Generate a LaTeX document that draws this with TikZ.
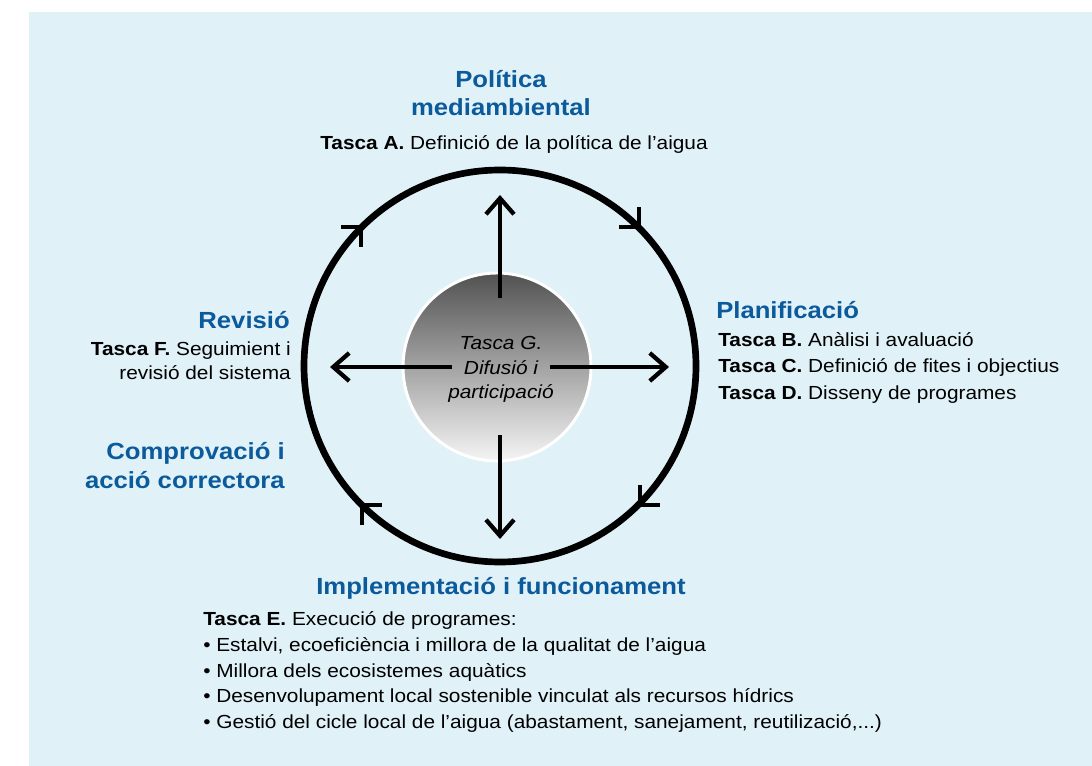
\documentclass[tikz,border=0pt]{standalone}
\usepackage{fontspec}
\setmainfont{Liberation Sans}[FakeStretch=1.1]
\usetikzlibrary{arrows.meta}
\definecolor{bg}{HTML}{E0F1F8}
\definecolor{ttl}{HTML}{0B5A9C}
\begin{document}
\begin{tikzpicture}[x=0.75pt,y=-0.75pt,
  body/.style={font=\fontsize{14.2}{17}\selectfont, inner sep=0pt},
  itbody/.style={font=\fontsize{14.2}{17}\selectfont\itshape, inner sep=0pt},
  ttlbox/.style={font=\fontsize{17.5}{21}\selectfont\bfseries, text=ttl, inner sep=0pt},
  arr/.style={line width=3.2pt, -{Straight Barb[length=12pt,width=21pt]}},
  tickmark/.style={line width=3.4pt, line cap=butt, line join=miter}]
\useasboundingbox (0,0) rectangle (1092,766);
\fill[bg] (29,12) rectangle (1092,766);

% main cycle circle
\coordinate (c) at (500,366);
\draw[line width=5pt] (c) circle[radius=196];

% direction marks on the circle
\coordinate (tl) at (361,227);
\coordinate (tr) at (639,227);
\coordinate (br) at (640,505);
\coordinate (bl) at (362,505);
\draw[tickmark] (341,227) -- (tl) -- (361,247);
\draw[tickmark] (619,227) -- (tr) -- (639,207);
\draw[tickmark] (640,485) -- (br) -- (660,505);
\draw[tickmark] (382,505) -- (bl) -- (362,525);

% central circle
\coordinate (ic) at (497,367);
\shade[top color=black!68, bottom color=black!4] (ic) circle[radius=94];
\draw[white, line width=2.2pt] (ic) circle[radius=94];

\node[itbody, anchor=base] (g1) at (501,350) {Tasca G.};
\node[itbody, anchor=base] (g2) at (501,374) {Difusió i};
\node[itbody, anchor=base] (g3) at (501,398) {participació};

% arrows
\coordinate (us) at (500,298);
\coordinate (ue) at (500,195);
\coordinate (ds) at (500,435);
\coordinate (de) at (500,539);
\coordinate (ls) at (452,367);
\coordinate (le) at (330,367);
\coordinate (rs) at (550,367);
\coordinate (re) at (669,367);
\draw[arr] (us) -- (ue);
\draw[arr] (ds) -- (de);
\draw[arr] (ls) -- (le);
\draw[arr] (rs) -- (re);

% top
\node[ttlbox, anchor=base] (pol1) at (501,88) {Política};
\node[ttlbox, anchor=base] (pol2) at (501,116) {mediambiental};
\node[body, anchor=base] (ta) at (514,150) {\textbf{Tasca A.} Definició de la política de l’aigua};

% right
\node[ttlbox, anchor=base west] (plan) at (716,319) {Planificació};
\node[body, anchor=base west] (tb) at (718,347) {\textbf{Tasca B.} Anàlisi i avaluació};
\node[body, anchor=base west] (tc) at (718,373) {\textbf{Tasca C.} Definició de fites i objectius};
\node[body, anchor=base west] (td) at (718,399) {\textbf{Tasca D.} Disseny de programes};

% left
\node[ttlbox, anchor=base east] (rev) at (290,329) {Revisió};
\node[body, anchor=base east] (tf1) at (291,356) {\textbf{Tasca F.} Seguimient i};
\node[body, anchor=base east] (tf2) at (291,380) {revisió del sistema};
\node[ttlbox, anchor=base east] (comp1) at (285,459) {Comprovació i};
\node[ttlbox, anchor=base east] (comp2) at (285,488) {acció correctora};

% bottom
\node[ttlbox, anchor=base] (impl) at (501,594) {Implementació i funcionament};
\node[body, anchor=base west] (te) at (203,625) {\textbf{Tasca E.} Execució de programes:};
\node[body, anchor=base west] (e1) at (203,651) {• Estalvi, ecoeficiència i millora de la qualitat de l’aigua};
\node[body, anchor=base west] (e2) at (203,677) {• Millora dels ecosistemes aquàtics};
\node[body, anchor=base west] (e3) at (203,702) {• Desenvolupament local sostenible vinculat als recursos hídrics};
\node[body, anchor=base west] (e4) at (203,728) {• Gestió del cicle local de l’aigua (abastament, sanejament, reutilizació,...)};
\end{tikzpicture}
\end{document}
